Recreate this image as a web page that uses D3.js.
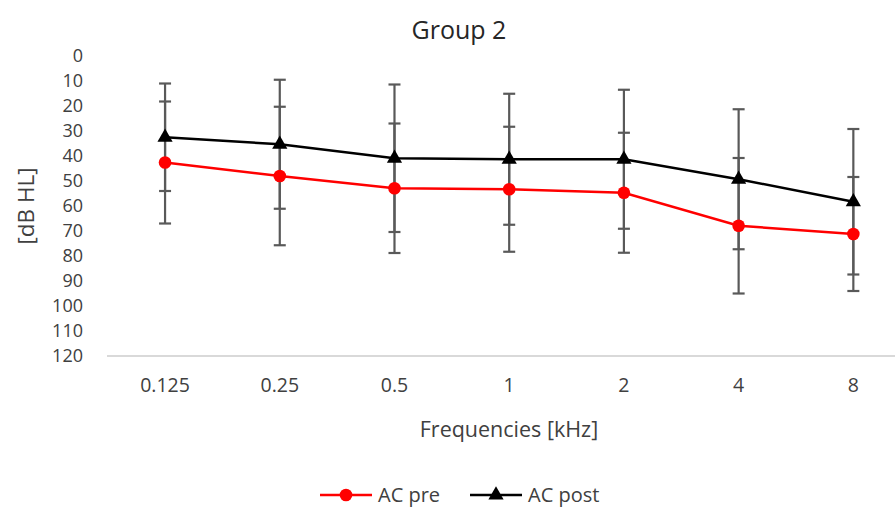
<!DOCTYPE html>
<html>
<head>
<meta charset="utf-8">
<script src="https://cdnjs.cloudflare.com/ajax/libs/d3/7.8.5/d3.min.js"></script>
<style>
  body { margin: 0; background: #fff; }
  svg { display: block; font-family: "Open Sans", sans-serif; }
</style>
</head>
<body>
<div id="chart"></div>
<script>
// data (dB HL, mean and SD)
var frequencies = ["0.125", "0.25", "0.5", "1", "2", "4", "8"];
var preMean  = [42.6, 48, 52.9, 53.3, 54.7, 67.9, 71.2];
var preSd    = [24.4, 27.7, 25.9, 25, 24, 27.1, 22.8];
var postMean = [32.5, 35.3, 40.9, 41.3, 41.3, 49.3, 58.3];
var postSd   = [21.5, 25.8, 29.5, 26.2, 27.8, 28, 29.1];
var yTicks   = [0, 10, 20, 30, 40, 50, 60, 70, 80, 90, 100, 110, 120];

var W = 895, H = 508;

var svg = d3.select("#chart").append("svg")
  .attr("width", W)
  .attr("height", H);

var x = d3.scaleBand().domain(frequencies).range([107.7, 910.7]).padding(0);
var y = d3.scaleLinear().domain([0, 120]).range([56, 356]);
var cx = function(d) { return x(d) + x.bandwidth() / 2; };

// title
svg.append("text")
  .attr("x", 459).attr("y", 39)
  .attr("text-anchor", "middle")
  .style("font-size", "25px").style("fill", "#262626")
  .text("Group 2");

// y axis (labels only)
var yAxis = svg.append("g")
  .attr("transform", "translate(107,0)")
  .call(d3.axisLeft(y).tickValues(yTicks).tickSize(0).tickPadding(24));
yAxis.select(".domain").remove();
yAxis.selectAll("text")
  .style("font-size", "18px").style("fill", "#404040")
  .style("font-family", "'Open Sans', sans-serif");

// x axis
var xAxis = svg.append("g")
  .attr("transform", "translate(0,356)")
  .call(d3.axisBottom(x).tickSize(0).tickPadding(22));
xAxis.select(".domain").attr("stroke", "#d9d9d9").attr("stroke-width", 2)
  .attr("d", "M107,0H" + W);
xAxis.selectAll("text")
  .style("font-size", "19.5px").style("fill", "#404040")
  .style("font-family", "'Open Sans', sans-serif");

// axis titles
svg.append("text")
  .attr("transform", "translate(34,206) rotate(-90)")
  .attr("text-anchor", "middle")
  .style("font-size", "22.5px").style("fill", "#404040")
  .text("[dB HL]");

svg.append("text")
  .attr("x", 509).attr("y", 437)
  .attr("text-anchor", "middle")
  .style("font-size", "21.5px").style("fill", "#404040")
  .text("Frequencies [kHz]");

var series = [
  { name: "AC pre",  mean: preMean,  sd: preSd,  color: "#ff0000", symbol: d3.symbolCircle,   size: 125 },
  { name: "AC post", mean: postMean, sd: postSd, color: "#000000", symbol: d3.symbolTriangle, size: 100 }
];

// error bars
var errColor = "#595959";
series.forEach(function(s) {
  var g = svg.append("g");
  frequencies.forEach(function(f, i) {
    var lo = y(s.mean[i] - s.sd[i]), hi = y(s.mean[i] + s.sd[i]), px = cx(f);
    g.append("line").attr("x1", px).attr("x2", px).attr("y1", lo).attr("y2", hi)
      .attr("stroke", errColor).attr("stroke-width", 2.2);
    [lo, hi].forEach(function(v) {
      g.append("line").attr("x1", px - 6).attr("x2", px + 6).attr("y1", v).attr("y2", v)
        .attr("stroke", errColor).attr("stroke-width", 2.2);
    });
  });
});

// lines and markers
series.forEach(function(s) {
  var pts = frequencies.map(function(f, i) { return [cx(f), y(s.mean[i])]; });
  svg.append("path")
    .attr("d", d3.line()(pts))
    .attr("fill", "none").attr("stroke", s.color).attr("stroke-width", 2.5);
  svg.selectAll(null).data(pts).enter().append("path")
    .attr("transform", function(d) { return "translate(" + d[0] + "," + d[1] + ")"; })
    .attr("d", d3.symbol().type(s.symbol).size(s.size))
    .attr("fill", s.color);
});

// legend
var legendX = [320, 470];
series.forEach(function(s, i) {
  var g = svg.append("g").attr("transform", "translate(" + legendX[i] + ",495)");
  g.append("line").attr("x1", 0).attr("x2", 52).attr("y1", 0).attr("y2", 0)
    .attr("stroke", s.color).attr("stroke-width", 2.5);
  g.append("path").attr("transform", "translate(26,0)")
    .attr("d", d3.symbol().type(s.symbol).size(s.size)).attr("fill", s.color);
  g.append("text").attr("x", 58).attr("y", 7)
    .style("font-size", "20px").style("fill", "#404040")
    .text(s.name);
});
</script>
</body>
</html>
